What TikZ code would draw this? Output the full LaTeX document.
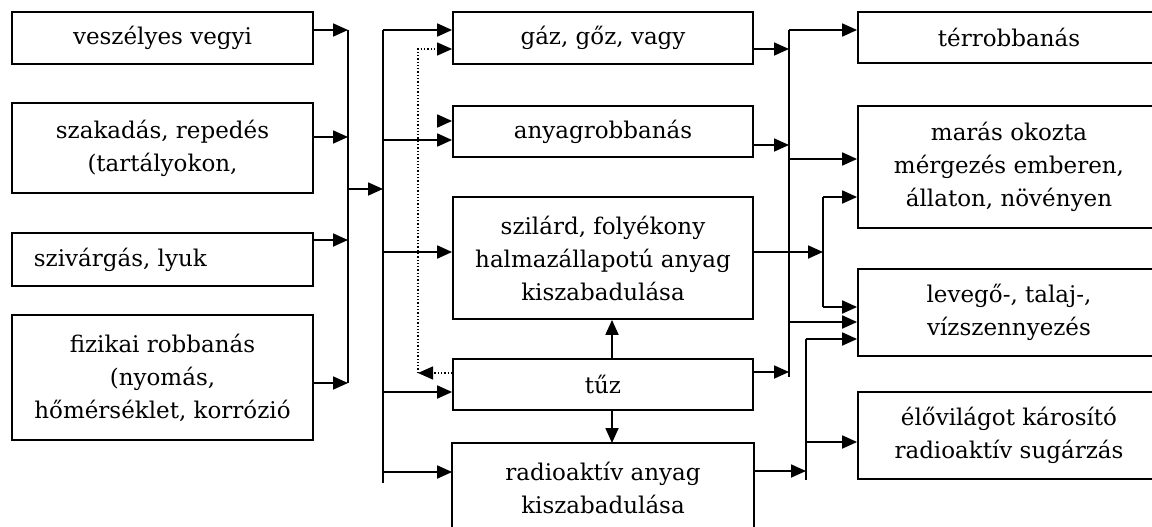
\documentclass[tikz,border=0pt]{standalone}
\usepackage{fontspec}
\setmainfont{DejaVu Serif}
\usetikzlibrary{arrows.meta}
\begin{document}
\begin{tikzpicture}[x=1pt,y=-1pt, line width=1.8pt,
  box/.style={draw, line width=1.8pt, inner sep=0pt, align=center,
    font=\fontsize{23}{33}\selectfont},
  txt/.style={inner sep=0pt, align=center, font=\fontsize{23}{33}\selectfont},
  arr/.style={-{Triangle[length=15pt,width=13pt]}},
  dots/.style={dotted, line width=1.3pt}]
\useasboundingbox (0,0) rectangle (1152,527);
\fill[white] (0,0) rectangle (1152,527);
\begin{scope}
\clip (0,0) rectangle (1152,527);
% left column
\node[box, minimum width=301pt, minimum height=52pt] (L1) at (162.5,38) {veszélyes vegyi};
\node[box, minimum width=301pt, minimum height=90pt] (L2) at (162.5,148) {szakadás, repedés\\(tartályokon,};
\node[box, minimum width=301pt, minimum height=53pt] (L3) at (162.5,259.5) {};
\node[txt, anchor=west] (L3T) at (33,259.5) {szivárgás, lyuk};
\node[box, minimum width=301pt, minimum height=125pt] (L4) at (162.5,377.5) {fizikai robbanás\\(nyomás,\\hőmérséklet, korrózió};
% middle column
\node[box, minimum width=300pt, minimum height=52pt] (M1) at (603,38) {gáz, gőz, vagy};
\node[box, minimum width=300pt, minimum height=51pt] (M2) at (603,131.5) {anyagrobbanás};
\node[box, minimum width=300pt, minimum height=122pt] (M3) at (603,258) {szilárd, folyékony\\halmazállapotú anyag\\kiszabadulása};
\node[box, minimum width=300pt, minimum height=51pt] (T) at (603,384.5) {tűz};
\node[txt, minimum width=300pt, minimum height=120pt, anchor=north] (Rad) at (603,443) {};
\draw (Rad.south west) -- (Rad.north west) -- (Rad.north east) -- (Rad.south east);
\node[txt] (RadT) at (603,488) {radioaktív anyag\\kiszabadulása};
% right column
\node[box, minimum width=302pt, minimum height=51pt] (R1) at (1009,37.5) {térrobbanás};
\node[box, minimum width=302pt, minimum height=122pt] (R2) at (1009,167) {marás okozta\\mérgezés emberen,\\állaton, növényen};
\node[box, minimum width=302pt, minimum height=87pt] (R3) at (1009,312.5) {levegő-, talaj-,\\vízszennyezés};
\node[box, minimum width=302pt, minimum height=87pt] (R4) at (1009,435.5) {élővilágot károsító\\radioaktív sugárzás};
\end{scope}
% bus coordinates
\coordinate (bA) at (348,0);
\coordinate (bB) at (383,0);
\coordinate (dX) at (418,0);
\coordinate (bC) at (789,0);
\coordinate (bD) at (823,0);
\coordinate (bE) at (806,0);
\coordinate (iso) at (437,121);
% left to bus A
\draw[arr] (L1.east |- 0,30) -- (bA |- 0,30);
\draw[arr] (L2.east |- 0,137) -- (bA |- 0,137);
\draw[arr] (L3.east |- 0,240) -- (bA |- 0,240);
\draw[arr] (L4.east |- 0,383) -- (bA |- 0,383);
\draw (bA |- 0,30) -- (bA |- 0,383);
\draw[arr] (bA |- 0,189) -- (bB |- 0,189);
% bus B to middle
\draw (bB |- 0,30) -- (bB |- 0,483);
\draw[arr] (bB |- 0,30) -- (M1.west |- 0,30);
\draw[arr] (bB |- 0,140) -- (M2.west |- 0,140);
\draw[arr] (bB |- 0,252) -- (M3.west |- 0,252);
\draw[arr] (bB |- 0,392) -- (T.west |- 0,392);
\draw[arr] (bB |- 0,472) -- (Rad.west |- 0,472);
% dotted feedback
\draw[dots, arr] (T.west |- 0,373) -- (dX |- 0,373);
\draw[dots, arr] (dX |- 0,373) -- (dX |- 0,49) -- (M1.west |- 0,49);
\draw[arr] (iso) -- (M2.west |- iso);
% fire up / down
\draw[arr] (T.north -| 612,0) -- (M3.south -| 612,0);
\draw[arr] (T.south -| 612,0) -- (Rad.north -| 612,0);
% right side
\draw[arr] (M1.east |- 0,49) -- (bC |- 0,49);
\draw[arr] (M2.east |- 0,145) -- (bC |- 0,145);
\draw[arr] (T.east |- 0,372) -- (bC |- 0,372);
\draw (bC |- 0,30) -- (bC |- 0,377);
\draw[arr] (bC |- 0,30) -- (R1.west |- 0,30);
\draw[arr] (bC |- 0,159) -- (R2.west |- 0,159);
\draw[arr] (bC |- 0,322) -- (R3.west |- 0,322);
\draw[arr] (M3.east |- 0,252) -- (bD |- 0,252);
\draw (bD |- 0,197) -- (bD |- 0,307);
\draw[arr] (bD |- 0,197) -- (R2.west |- 0,197);
\draw[arr] (bD |- 0,307) -- (R3.west |- 0,307);
\draw[arr] (Rad.east |- 0,471) -- (bE |- 0,471);
\draw (bE |- 0,339) -- (bE |- 0,480);
\draw[arr] (bE |- 0,339) -- (R3.west |- 0,339);
\draw[arr] (bE |- 0,442) -- (R4.west |- 0,442);
\end{tikzpicture}
\end{document}
